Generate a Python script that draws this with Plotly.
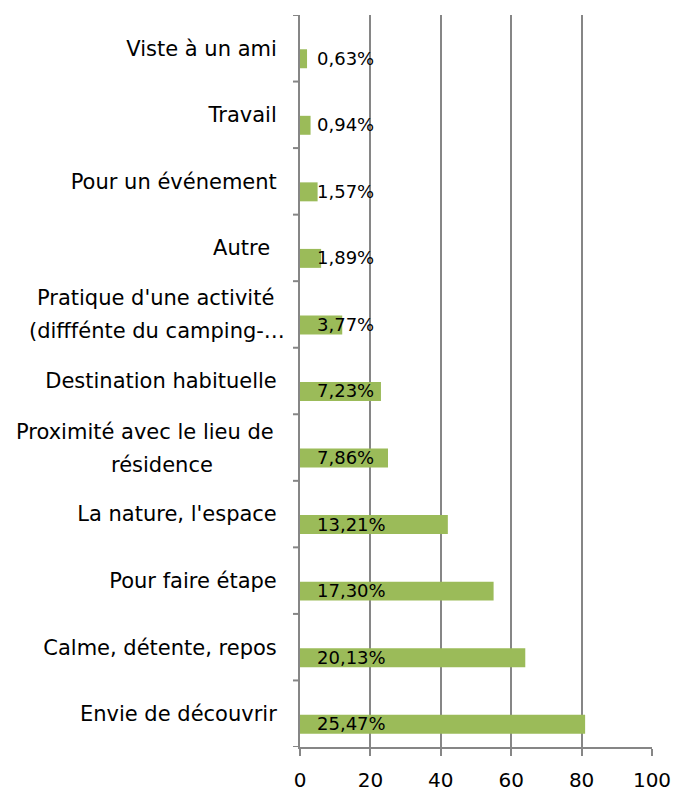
import plotly.graph_objects as go

categories = [
    "Envie de découvrir",
    "Calme, détente, repos",
    "Pour faire étape",
    "La nature, l'espace",
    "Proximité avec le lieu de résidence",
    "Destination habituelle",
    "Pratique d'une activité (difffénte du camping-…",
    "Autre\u00a0",
    "Pour un événement",
    "Travail",
    "Viste à un ami",
]
# how the long labels are wrapped (line 1, line 2)
wrapped = {
    "Proximité avec le lieu de résidence": ("Proximité avec le lieu de", "résidence"),
    "Pratique d'une activité (difffénte du camping-…": ("Pratique d'une activité", "(difffénte du camping-…"),
}
counts = [81, 64, 55, 42, 25, 23, 12, 6, 5, 3, 2]
pct_labels = ["25,47%", "20,13%", "17,30%", "13,21%", "7,86%", "7,23%",
              "3,77%", "1,89%", "1,57%", "0,94%", "0,63%"]
x_ticks = [0, 20, 40, 60, 80, 100]

FONT = "DejaVu Sans"
GRID = "#868686"
# placement of the second line of wrapped labels (anchor, pixel shift from axis)
second_line_style = {
    "résidence": ("center", -138),
    "(difffénte du camping-…": ("right", -13),
}

fig = go.Figure()
fig.add_trace(go.Bar(
    y=list(range(len(categories))),
    x=counts,
    orientation="h",
    marker=dict(color="#9BBB59", line=dict(width=0)),
    width=0.285,
    offset=-0.3,
    hoverinfo="skip",
))

for i, t in enumerate(pct_labels):
    fig.add_annotation(
        x=4.3, y=i - 0.15, text=t, showarrow=False,
        xanchor="left", yanchor="middle",
        font=dict(family=FONT, size=18, color="#000000"),
    )

# category tick texts: single-line labels via the axis, wrapped ones as annotations
tick_text = ["" if c in wrapped else c for c in categories]
for i, c in enumerate(categories):
    if c in wrapped:
        l1, l2 = wrapped[c]
        fig.add_annotation(xref="paper", yref="y", x=0, y=i, text=l1,
                           showarrow=False, xanchor="right", yanchor="middle",
                           xshift=-24, yshift=16,
                           font=dict(family=FONT, size=21, color="#000000"))
        anchor, shift = second_line_style[l2]
        fig.add_annotation(xref="paper", yref="y", x=0, y=i, text=l2,
                           showarrow=False, xanchor=anchor, yanchor="middle",
                           xshift=shift, yshift=-17,
                           font=dict(family=FONT, size=21, color="#000000"))

fig.update_layout(
    width=675, height=792,
    margin=dict(l=300, r=23, t=15, b=45),
    paper_bgcolor="white", plot_bgcolor="white",
    showlegend=False,
    font=dict(family=FONT, size=21, color="#000000"),
)
fig.update_xaxes(
    range=[0, 100], tickvals=x_ticks, ticktext=[str(v) for v in x_ticks],
    showgrid=True, gridcolor=GRID, gridwidth=2,
    showline=True, linecolor=GRID, linewidth=2,
    ticks="outside", ticklen=7, tickcolor=GRID, tickwidth=2,
    tickfont=dict(family=FONT, size=20, color="#000000"),
    ticklabelstandoff=7,
    zeroline=False, automargin=False,
)
fig.update_yaxes(
    range=[-0.5, len(categories) - 0.5],
    tickvals=list(range(len(categories))), ticktext=tick_text,
    showgrid=False,
    showline=True, linecolor=GRID, linewidth=2,
    ticks="",
    tickfont=dict(family=FONT, size=21, color="#000000"),
    ticklabelstandoff=17,
    zeroline=False, automargin=False,
)
# boundary ticks on the category axis
for b in range(len(categories) + 1):
    fig.add_shape(type="line", xref="x domain", yref="y",
                  x0=-7 / 352, x1=0, y0=b - 0.5, y1=b - 0.5,
                  line=dict(color=GRID, width=2))

fig.write_html("out.html", config={"displayModeBar": False},
               post_script="document.body.style.margin='0';")
